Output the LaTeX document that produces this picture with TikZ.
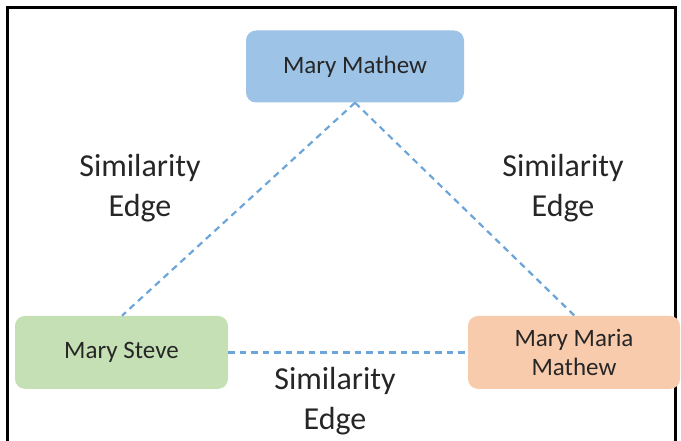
\documentclass[tikz,border=0pt]{standalone}
\usepackage{fontspec}
\setmainfont{Carlito}
\usetikzlibrary{positioning}
\definecolor{edgeblue}{HTML}{5B9BD5}
\definecolor{nameblue}{HTML}{9DC3E6}
\definecolor{namegreen}{HTML}{C5E0B4}
\definecolor{nameorange}{HTML}{F8CBAD}
\tikzset{
    %Define style for name boxes
    namebox/.style={
           rectangle,
           rounded corners=10pt,
           draw=none,
           minimum width=213pt,
           minimum height=73pt,
           inner sep=0pt,
           align=center,
           text=black!85,
           font=\fontsize{25}{28.5}\selectfont},
    % Define style for edge labels
    edgelabel/.style={
           align=center,
           text=black!85,
           font=\fontsize{32}{40}\selectfont},
    % Define edge style
    simedge/.style={
           draw=edgeblue!90,
           line width=2.2pt,
           dash pattern=on 6.5pt off 5pt}
}
\begin{document}
\begin{tikzpicture}[x=1pt,y=-1pt]
\useasboundingbox (0,0) rectangle (681,441);
\draw[line width=2.8pt] (7.5,441) -- (7.5,7.5) -- (675.5,7.5) -- (675.5,441);

\node[namebox, fill=nameblue, minimum width=218pt, minimum height=72pt](mathew) at (355,66.5){Mary Mathew};
\node[namebox, fill=namegreen, below=213pt of mathew, xshift=-233.5pt](steve){Mary Steve};
\node[namebox, fill=nameorange, minimum width=212pt, below=213pt of mathew, xshift=219pt](maria){Mary Maria\\Mathew};

\node[edgelabel] (lab1) at (140,188){Similarity\\Edge};
\node[edgelabel] (lab2) at (563,188){Similarity\\Edge};
\node[edgelabel] (lab3) at (335,401){Similarity\\Edge};

\path[simedge]
	(mathew.south) edge ([xshift=0.5pt]steve.north)
	(mathew.south) edge ([xshift=0.5pt]maria.north)
	(steve.east) edge (maria.west);

\end{tikzpicture}
\end{document}
